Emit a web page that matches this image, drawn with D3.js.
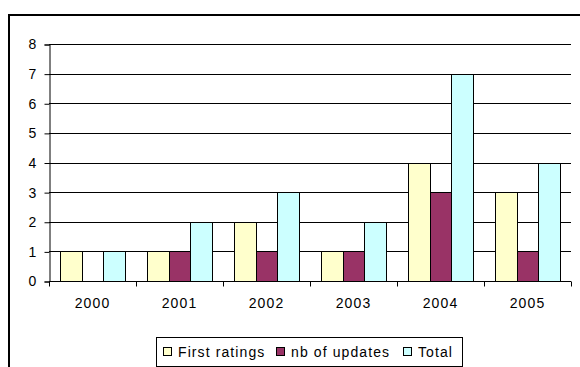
<!DOCTYPE html>
<html lang="en">
<head>
<meta charset="utf-8">
<title>Ratings per year</title>
<script src="https://cdn.jsdelivr.net/npm/d3@7"></script>
<style>
  body { margin: 0; background: #fff; }
  text { font-family: "Liberation Sans", Arial, sans-serif; font-size: 14px; fill: #000; letter-spacing: 1.1px; }
</style>
</head>
<body>
<div id="chart"></div>
<script>
// data
var years = ["2000", "2001", "2002", "2003", "2004", "2005"];
var seriesNames = ["First ratings", "nb of updates", "Total"];
var firstRatings = [1, 1, 2, 1, 4, 3];
var nbUpdates = [0, 1, 1, 1, 3, 1];
var total = [1, 2, 3, 2, 7, 4];
var yTicks = [0, 1, 2, 3, 4, 5, 6, 7, 8];

var colors = ["#FFFFCC", "#993366", "#CCFFFF"];
var series = [firstRatings, nbUpdates, total];

var w = 580, h = 367;
var plotLeft = 49, plotRight = 571, plotTop = 44, plotBottom = 281;

var svg = d3.select("#chart").append("svg")
  .attr("width", w)
  .attr("height", h);

// outer chart border (runs off the right and bottom edges)
svg.append("rect")
  .attr("x", 9).attr("y", 15)
  .attr("width", 600).attr("height", 400)
  .attr("fill", "none")
  .attr("stroke", "#000")
  .attr("stroke-width", 2);

var x0 = d3.scaleBand().domain(years).range([plotLeft, plotRight]);
var x1 = d3.scaleBand().domain(d3.range(3))
  .range([0, x0.bandwidth()]).paddingOuter(0.5);
var y = d3.scaleLinear().domain([0, 8]).range([plotBottom, plotTop]);

// gridlines
svg.append("g").selectAll("line")
  .data(yTicks)
  .enter().append("line")
  .attr("x1", plotLeft).attr("x2", plotRight)
  .attr("y1", function(d) { return Math.round(y(d)) + 0.5; })
  .attr("y2", function(d) { return Math.round(y(d)) + 0.5; })
  .attr("stroke", "#000");

// bars
var groups = svg.append("g").selectAll("g")
  .data(years)
  .enter().append("g")
  .attr("transform", function(d) { return "translate(" + x0(d) + ",0)"; });

groups.selectAll("rect")
  .data(function(d, i) {
    return series.map(function(s, k) { return { k: k, v: s[i] }; })
      .filter(function(e) { return e.v > 0; });
  })
  .enter().append("rect")
  .attr("x", function(d) { return Math.round(x1(d.k)) + 0.5; })
  .attr("y", function(d) { return Math.round(y(d.v)) + 0.5; })
  .attr("width", function(d) { return Math.round(x1.bandwidth()); })
  .attr("height", function(d) { return Math.round(y(0)) - Math.round(y(d.v)); })
  .attr("fill", function(d) { return colors[d.k]; })
  .attr("stroke", "#000");

// y axis
var yAxis = d3.axisLeft(y).tickValues(yTicks).tickSize(5).tickPadding(7);
var gy = svg.append("g")
  .attr("transform", "translate(" + (plotLeft + 0.5) + ",0.5)")
  .call(yAxis);
gy.select(".domain").attr("stroke", "#000");
gy.selectAll(".tick line").attr("stroke", "#000");
gy.selectAll("text")
  .attr("fill", "#000")
  .style("font-size", "14px")
  .style("font-family", "Liberation Sans, Arial, sans-serif");

// x axis with ticks at the category boundaries
var gx = svg.append("g")
  .attr("transform", "translate(0," + (Math.round(y(0)) + 0.5) + ")");
gx.append("line")
  .attr("x1", plotLeft).attr("x2", plotRight)
  .attr("stroke", "#000");
gx.selectAll(".tick")
  .data(d3.range(years.length + 1))
  .enter().append("line")
  .attr("x1", function(i) { return Math.round(plotLeft + i * x0.step()) + 0.5; })
  .attr("x2", function(i) { return Math.round(plotLeft + i * x0.step()) + 0.5; })
  .attr("y1", 0).attr("y2", 5)
  .attr("stroke", "#000");
gx.selectAll("text")
  .data(years)
  .enter().append("text")
  .attr("x", function(d) { return x0(d) + x0.bandwidth() / 2; })
  .attr("y", 26)
  .attr("text-anchor", "middle")
  .text(function(d) { return d; });

// legend
var legend = svg.append("g");
legend.append("rect")
  .attr("x", 156.5).attr("y", 337.5)
  .attr("width", 306).attr("height", 29)
  .attr("fill", "#fff")
  .attr("stroke", "#000");

var legendX = [163, 276, 403];
seriesNames.forEach(function(name, k) {
  legend.append("rect")
    .attr("x", legendX[k] + 0.5).attr("y", 347.5)
    .attr("width", 8).attr("height", 8)
    .attr("fill", colors[k])
    .attr("stroke", "#000");
  legend.append("text")
    .attr("x", legendX[k] + 15)
    .attr("y", 357)
    .text(name);
});
</script>
</body>
</html>
